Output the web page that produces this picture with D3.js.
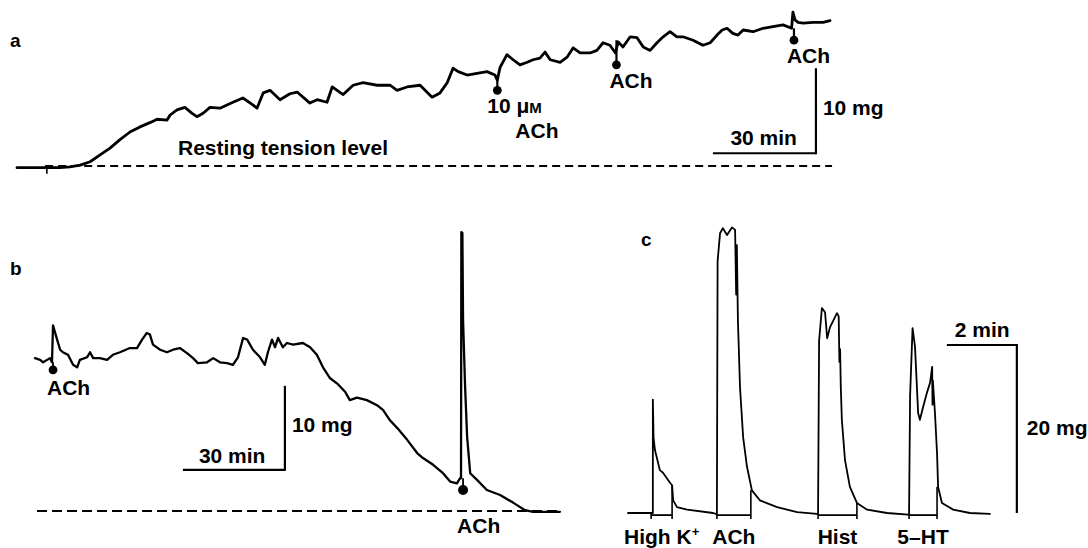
<!DOCTYPE html>
<html><head><meta charset="utf-8">
<script src="https://cdnjs.cloudflare.com/ajax/libs/d3/7.8.5/d3.min.js"></script>
<style>
body{margin:0;background:#fff}
svg{display:block}
text{font-family:"Liberation Sans",Arial,Helvetica,sans-serif;font-weight:bold;fill:#000}
</style>
</head><body>
<svg id="fig" width="1088" height="548"></svg>
<script>
// ---------- Panel a : slow tension trace (time in min, tension in mg) ----------
const aTime = [0,8.7,12.5,15.4,18.4,21.3,24.2,27.1,30.0,32.9,35.8,38.7,40.8,43.7,44.6,46.6,48.9,51.0,52.4,54.2,56.2,59.1,62.9,65.8,68.7,69.9,71.7,73.7,76.6,79.5,81.6,85.3,87.4,90.3,91.8,95.0,97.9,100.8,104.9,108.7,110.7,113.6,117.4,120.9,123.2,125.3,127.0,128.5,131.1,134.0,136.9,139.2,139.9,140.7,142.7,144.5,146.5,148.6,150.3,152.3,153.8,155.3,158.2,160.2,162.0,164.0,166.9,168.9,170.7,172.7,174.3,175.1,176.5,178.6,180.6,182.4,184.4,186.4,188.2,190.2,192.2,194.0,196.9,199.8,201.9,203.9,205.4,206.8,208.5,210.0,211.5,214.4,217.3,220.2,223.1,225.6,226.0,226.6,227.5,229.0,231.9,234.8,236.8];
const aTension = [-0.2,-0.2,-0.2,-0.1,0.1,0.5,1.3,2.1,3.1,4.0,4.6,5.1,5.5,5.4,6.0,6.6,6.9,6.2,5.8,6.2,6.9,6.8,7.5,8.0,7.2,6.8,8.6,8.9,7.8,8.5,8.7,7.4,7.8,7.5,9.3,8.4,9.5,9.8,9.5,9.5,8.9,9.3,9.5,8.1,8.6,9.8,11.5,11.1,10.7,10.9,11.1,10.7,10.1,11.6,13.1,12.5,11.9,12.2,12.5,12.7,13.4,12.5,12.2,12.8,13.9,13.3,13.3,13.6,14.5,14.2,13.3,14.6,14.0,15.2,15.1,14.0,13.6,14.5,15.2,15.8,15.2,15.2,14.8,14.2,14.5,15.4,16.0,16.2,15.6,15.4,16.0,15.8,16.2,16.4,16.6,16.2,18.1,17.2,16.9,16.8,16.9,16.9,17.1];
const aMarkTime = [139.9, 174.6, 226.3];
const aMarkTop = [10.7, 14.8, 16.2];
const aMarkDot = [8.9, 11.9, 14.8];
const aRestSpan = [8.2, 237.4];
const aStartTick = [8.7, -0.2, -0.9];
const aScaleBar = {t0: 202.7, t1: 232.7, mg0: 1.5, mg1: 11.5};

// ---------- Panel b ----------
const bTime = [0,1.5,2.4,4.4,5.0,5.3,6.5,7.4,8.2,9.7,11.2,12.4,13.2,15.3,16.2,17.1,19.1,21.2,22.9,25.0,27.9,30.0,31.5,32.9,33.8,34.7,36.8,38.8,40.6,42.6,44.7,46.5,47.9,50.6,52.4,54.4,56.5,58.2,59.7,61.2,62.4,64.1,66.2,67.6,68.5,69.7,70.6,71.5,72.9,74.1,75.9,78.8,80.9,82.9,84.7,86.8,88.8,91.2,92.6,94.7,97.6,100.6,102.4,104.4,106.5,109.4,112.4,114.1,117.1,120.0,122.1,124.1,125.0,125.3,125.4,125.7,125.9,126.5,127.1,128.0,130.0,132.9,136.8,140.6,144.1,146.5,154.4];
const bTension = [18.2,18.0,17.7,18.2,17.7,22.1,20.4,19.2,18.9,18.6,17.4,17.1,18.0,18.3,18.9,18.2,18.2,18.0,18.6,18.9,19.4,19.4,20.4,21.2,21.0,19.8,19.2,18.9,19.2,19.4,18.8,18.2,17.6,17.7,18.2,17.7,17.6,17.4,18.3,20.6,20.4,19.2,18.3,17.4,18.9,20.4,19.5,20.6,19.5,20.0,19.8,20.0,19.5,18.6,17.1,15.8,15.2,14.2,13.2,13.5,13.2,12.6,12.0,10.8,9.9,8.5,6.9,6.3,5.5,4.5,3.5,3.3,3.9,3.9,33.2,33.1,22.7,14.8,8.8,4.5,3.7,2.5,1.9,1.0,0.1,-0.1,-0.1];
const bMarkTime = [5.3, 125.9];
const bMarkTop = [17.7, 3.9];
const bMarkDot = [16.8, 2.5];
const bRestSpan = [0.6, 154.4];
const bScaleBar = {t0: 43.5, t1: 73.5, mg0: 4.9, mg1: 14.9};

// ---------- Panel c ----------
const cTime = [0,0.66,0.71,0.71,0.73,0.77,0.91,1.00,1.20,1.26,1.29,1.40,1.69,2.43,
  2.51,2.54,2.56,2.63,2.71,2.83,2.97,3.06,3.09,3.11,3.14,3.20,3.29,3.40,3.54,3.77,4.26,4.83,5.40,
  5.43,5.46,5.54,5.63,5.69,5.77,5.97,6.02,6.04,6.06,6.08,6.11,6.20,6.34,6.54,6.83,7.40,8.00,
  8.03,8.06,8.13,8.20,8.29,8.34,8.43,8.54,8.63,8.66,8.69,8.70,8.71,8.77,8.83,8.86,8.97,9.29,9.77,10.34];
const cTension = [0,0,0,13.5,9.0,7.5,5.1,4.8,3.6,3.3,1.5,0.7,0.4,0,
  -0.1,-0.1,30.0,33.3,33.9,33.1,34.0,33.7,26.0,31.9,23.0,15.0,9.0,5.5,2.7,1.5,0.7,0.1,-0.1,
  -0.1,20.5,24.4,23.9,20.8,22.1,23.8,23.4,18.0,19.5,15.0,11.1,6.3,3.1,1.2,0.4,0,-0.2,
  -0.2,14.0,22.0,19.8,11.9,11.1,12.6,14.3,15.5,16.4,17.4,12.9,15.8,11.9,7.1,3.1,1.2,0.4,0,-0.1];
const cAgents = ["High K+", "ACh", "Hist", "5–HT"];
const cBarStart = [0.66, 2.54, 5.43, 8.03];
const cBarEnd = [1.26, 3.51, 6.54, 8.83];
const cEndTickTop = [3.3, 2.7, 1.2, 3.1];
const cScaleBar = {t0: 9.11, t1: 11.11, mg0: 0, mg1: 20};

// ---------- layout ----------
const svg = d3.select("#fig");
const ink = "#000";
const FS = 21;

const xA = d3.scaleLinear().domain([0, 30]).range([17, 120]);
const yA = d3.scaleLinear().domain([0, 10]).range([166, 81]);
const xB = d3.scaleLinear().domain([0, 30]).range([35, 137]);
const yB = d3.scaleLinear().domain([0, 10]).range([511, 427]);
const xC = d3.scaleLinear().domain([0, 2]).range([628, 698]);
const yC = d3.scaleLinear().domain([0, 20]).range([513, 345]);

function trace(g, times, vals, x, y, w) {
  const pts = times.map((t, i) => [t, vals[i]]);
  g.append("path").datum(pts)
    .attr("d", d3.line().x(d => x(d[0])).y(d => y(d[1])))
    .attr("fill", "none").attr("stroke", ink).attr("stroke-width", w)
    .attr("stroke-linejoin", "round").attr("stroke-linecap", "round");
}
function seg(g, x1, y1, x2, y2, w, dash) {
  const l = g.append("line").attr("x1", x1).attr("y1", y1).attr("x2", x2).attr("y2", y2)
    .attr("stroke", ink).attr("stroke-width", w);
  if (dash) l.attr("stroke-dasharray", dash);
  return l;
}
function label(g, x, y, txt, size, anchor) {
  return g.append("text").attr("x", x).attr("y", y).attr("font-size", size)
    .attr("text-anchor", anchor || "start").text(txt);
}

// Panel a
const gA = svg.append("g");
label(gA, 10, 47, "a", 19);
seg(gA, xA(aRestSpan[0]), yA(0), xA(aRestSpan[1]), yA(0), 2.2, "8,5");
trace(gA, aTime, aTension, xA, yA, 2.8);
seg(gA, xA(aStartTick[0]), yA(aStartTick[1]), xA(aStartTick[0]), yA(aStartTick[2]), 1.6);
aMarkTime.forEach((t, i) => {
  seg(gA, xA(t), yA(aMarkTop[i]), xA(t), yA(aMarkDot[i]), 2.2);
  gA.append("circle").attr("cx", xA(t)).attr("cy", yA(aMarkDot[i])).attr("r", 4.4).attr("fill", ink);
});
const t10 = label(gA, xA(aMarkTime[0]) - 10, 113, "10 μ", FS);
t10.append("tspan").attr("font-size", 15).text("M");
label(gA, xA(aMarkTime[0]) + 18, 138, "ACh", FS);
label(gA, xA(aMarkTime[1]) - 7, 88, "ACh", FS);
label(gA, xA(aMarkTime[2]) - 7, 63, "ACh", FS);
label(gA, 178, 155, "Resting tension level", FS);
seg(gA, xA(aScaleBar.t0), yA(aScaleBar.mg0), xA(aScaleBar.t1), yA(aScaleBar.mg0), 2.2);
seg(gA, xA(aScaleBar.t1), yA(aScaleBar.mg0) + 1, xA(aScaleBar.t1), yA(aScaleBar.mg1), 2.2);
label(gA, xA(aScaleBar.t1) - 19, yA(aScaleBar.mg0) - 8, "30 min", FS, "end");
label(gA, xA(aScaleBar.t1) + 7, 115, "10 mg", FS);

// Panel b
const gB = svg.append("g");
label(gB, 10, 275, "b", 19);
seg(gB, xB(bRestSpan[0]), yB(0), xB(bRestSpan[1]), yB(0), 2.2, "10,5");
trace(gB, bTime, bTension, xB, yB, 2.3);
bMarkTime.forEach((t, i) => {
  seg(gB, xB(t), yB(bMarkTop[i]), xB(t), yB(bMarkDot[i]), 1.8);
  gB.append("circle").attr("cx", xB(t)).attr("cy", yB(bMarkDot[i])).attr("r", i ? 5 : 4.4).attr("fill", ink);
});
label(gB, xB(bMarkTime[0]) - 6, 395, "ACh", FS);
label(gB, xB(bMarkTime[1]) - 6, 533, "ACh", FS);
seg(gB, xB(bScaleBar.t0), yB(bScaleBar.mg0), xB(bScaleBar.t1), yB(bScaleBar.mg0), 2.2);
seg(gB, xB(bScaleBar.t1), yB(bScaleBar.mg0) + 1, xB(bScaleBar.t1), yB(bScaleBar.mg1), 2.2);
label(gB, xB(bScaleBar.t0) + 16, yB(bScaleBar.mg0) - 7, "30 min", FS);
label(gB, xB(bScaleBar.t1) + 7, 432, "10 mg", FS);

// Panel c
const gC = svg.append("g");
label(gC, 641, 246, "c", 19);
trace(gC, cTime, cTension, xC, yC, 1.8);
cAgents.forEach((name, i) => {
  const yb = yC(-0.25);
  seg(gC, xC(cBarStart[i]), yb, xC(cBarEnd[i]), yb, 1.8);
  seg(gC, xC(cBarStart[i]), yb - 1, xC(cBarStart[i]), yC(-0.7), 1.6);
  seg(gC, xC(cBarEnd[i]), yC(cEndTickTop[i]), xC(cBarEnd[i]), yC(-0.7), 1.6);
  const cx = (xC(cBarStart[i]) + xC(cBarEnd[i])) / 2;
  if (name === "High K+") {
    const t = label(gC, cx, 544, "High K", FS, "middle");
    t.append("tspan").attr("font-size", 13).attr("dy", -8).text("+");
  } else {
    label(gC, cx, 544, name, FS, "middle");
  }
});
seg(gC, xC(cScaleBar.t0), yC(cScaleBar.mg1), xC(cScaleBar.t1), yC(cScaleBar.mg1), 2.2);
seg(gC, xC(cScaleBar.t1), yC(cScaleBar.mg1) - 1, xC(cScaleBar.t1), yC(cScaleBar.mg0), 2.2);
label(gC, xC(cScaleBar.t0) + 8, yC(cScaleBar.mg1) - 8, "2 min", FS);
label(gC, xC(cScaleBar.t1) + 10, 435, "20 mg", FS);
</script>
</body></html>
